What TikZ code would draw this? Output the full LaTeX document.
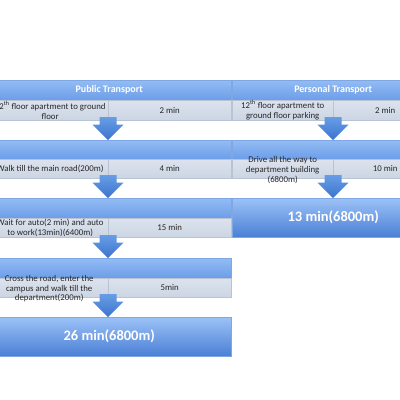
\documentclass[tikz,border=0pt]{standalone}
\usepackage{fontspec}
\setmainfont{Carlito}
\usetikzlibrary{calc}
\definecolor{barTop}{HTML}{93BCF4}
\definecolor{barBot}{HTML}{6C9DE8}
\definecolor{barEdge}{HTML}{7EA7E4}
\definecolor{bigTop}{HTML}{9CC2F7}
\definecolor{bigBot}{HTML}{4A7FD5}
\definecolor{rowTop}{HTML}{DCE3EE}
\definecolor{rowBot}{HTML}{CCD5E3}
\definecolor{rowEdge}{HTML}{B9C3D4}
\definecolor{arrTop}{HTML}{679DE6}
\definecolor{arrBot}{HTML}{3C74CD}
\tikzset{
  bar/.style={rectangle, inner sep=0, anchor=north west, top color=barTop, bottom color=barBot,
    draw=barEdge, line width=0.4pt, text=white, font=\bfseries\fontsize{10}{12}\selectfont},
  bigbar/.style={rectangle, inner sep=0, anchor=north west, top color=bigTop, bottom color=bigBot,
    draw=barEdge, line width=0.4pt, text=white, font=\bfseries\fontsize{14.5}{17}\selectfont},
  celltext/.style={text=black!85, align=center, font=\fontsize{8.8}{9.8}\selectfont},
  cell/.style={rectangle, inner sep=0, anchor=north west, top color=rowTop, bottom color=rowBot,
    draw=rowEdge, line width=0.4pt, celltext},
  blockarrow/.pic={\shade[top color=arrTop, bottom color=arrBot]
    (-8.5,-23) -- (8.5,-23) -- (8.5,-15.5) -- (15.5,-15.5) -- (0,0) -- (-15.5,-15.5) -- (-8.5,-15.5) -- cycle;}
}
\begin{document}
\begin{tikzpicture}[x=1pt,y=-1pt]
\useasboundingbox (0,0) rectangle (400,400);
\clip (0,0) rectangle (400,400);
% ---------- Public transport column ----------
\node[bar, minimum width=244pt, minimum height=20pt] (ph) at (-13,80) {Public Transport};
\node[cell, minimum width=116pt, minimum height=20pt] (p1l) at (-8,100) {12\textsuperscript{th} floor apartment to ground\\floor};
\node[cell, minimum width=123pt, minimum height=20pt] (p1r) at (108,100) {2 min};
\node[bar, minimum width=244pt, minimum height=19pt] (p2b) at (-13,140) {};
\node[cell, minimum width=116pt, minimum height=19pt] (p2l) at (-8,159) {Walk till the main road(200m)};
\node[cell, minimum width=123pt, minimum height=19pt] (p2r) at (108,159) {4 min};
\node[bar, minimum width=244pt, minimum height=20pt] (p3b) at (-13,198) {};
\node[cell, minimum width=116pt, minimum height=19pt] (p3l) at (-8,218) {Wait for auto(2 min) and auto\\to work(13min)(6400m)};
\node[cell, minimum width=123pt, minimum height=19pt] (p3r) at (108,218) {15 min};
\node[bar, minimum width=244pt, minimum height=20pt] (p4b) at (-13,258) {};
\node[cell, minimum width=116pt, minimum height=19pt] (p4l) at (-8,278) {};
\node[cell, minimum width=123pt, minimum height=19pt] (p4r) at (108,278) {5min};
\node[celltext] (p4t) at ($(p4l.center)+(-1,1)$) {Cross the road, enter the\\campus and walk till the\\department(200m)};
\node[bigbar, minimum width=244pt, minimum height=39pt] (pt) at (-13,317) {26 min(6800m)};
\pic at (p1r.west |- p2b.north) {blockarrow};
\pic at (p2r.west |- p3b.north) {blockarrow};
\pic at (p3r.west |- p4b.north) {blockarrow};
\pic at (p4r.west |- pt.north) {blockarrow};
% ---------- Personal transport column ----------
\node[bar, minimum width=202pt, minimum height=20pt] (qh) at (232,80) {Personal Transport};
\node[cell, minimum width=101pt, minimum height=20pt] (q1l) at (232,100) {12\textsuperscript{th} floor apartment to\\ground floor parking};
\node[cell, minimum width=104pt, minimum height=20pt] (q1r) at (333,100) {2 min};
\node[bar, minimum width=202pt, minimum height=19pt] (q2b) at (232,140) {};
\node[cell, minimum width=101pt, minimum height=19pt] (q2l) at (232,159) {};
\node[cell, minimum width=104pt, minimum height=19pt] (q2r) at (333,159) {10 min};
\node[celltext] (q2t) at ($(q2l.center)+(0,1.5)$) {Drive all the way to\\department building\\(6800m)};
\node[bigbar, minimum width=202pt, minimum height=39pt] (qt) at (232,198) {13 min(6800m)};
\pic at (q1r.west |- q2b.north) {blockarrow};
\pic at (q2r.west |- qt.north) {blockarrow};
\end{tikzpicture}
\end{document}
